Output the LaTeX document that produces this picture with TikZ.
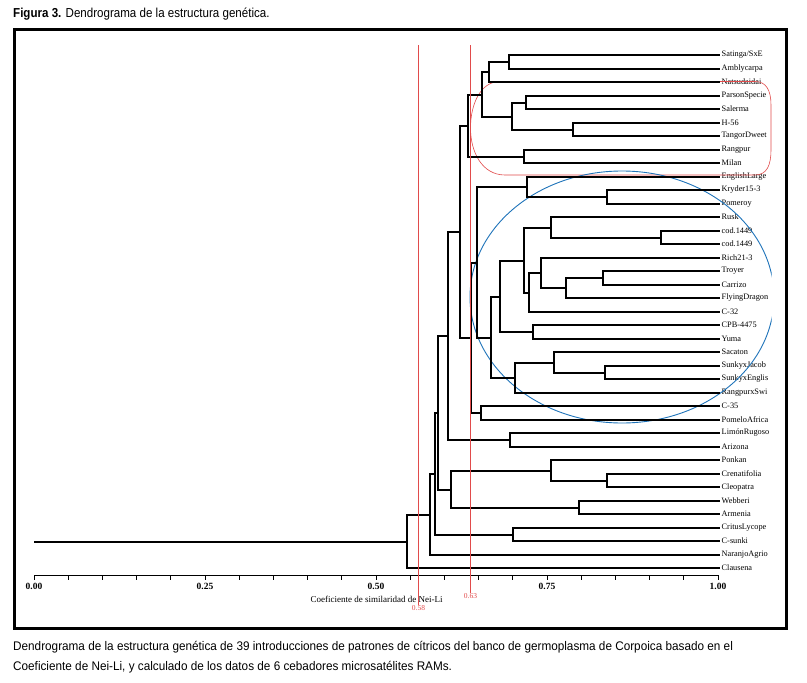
\documentclass[tikz,border=0pt]{standalone}
\usepackage{fontspec}
\setmainfont{Liberation Serif}
\newfontfamily\titlesans[FakeStretch=0.89]{Liberation Sans}
\newfontfamily\capsans[FakeStretch=0.94]{Liberation Sans}
\usetikzlibrary{calc}
\definecolor{redline}{RGB}{225,75,75}
\definecolor{bluec}{RGB}{30,115,185}
\newcommand\joinat[4]{%
  \path let \p1=(#3), \p2=(#4) in coordinate (#1) at (#2pt, {round(0.5*\y1+0.5*\y2)*1pt});
  \draw[br] (#1) |- (#3);
  \draw[br] (#1) |- (#4);}
\begin{document}
\begin{tikzpicture}[x=1pt,y=-1pt,
  br/.style={line width=2pt, line cap=rect, line join=miter},
  leaflab/.style={anchor=west, font=\fontsize{8.3}{9}\selectfont, inner sep=0pt},
  ticklab/.style={font=\fontsize{9.5}{10}\selectfont\bfseries, inner sep=0pt},
  redlab/.style={font=\fontsize{7.5}{8}\selectfont, text=redline, inner sep=0pt},
  redrule/.style={draw=redline, line width=0.6pt},
  framebox/.style={line width=3pt}]
\useasboundingbox (0,0) rectangle (807,683);

% title
\node[anchor=west, inner sep=0pt] (title) at (13,14)
  {\titlesans\fontsize{13}{15}\selectfont\bfseries Figura 3. \mdseries Dendrograma de la estructura genética.};

% frame
\coordinate (fNW) at (14.5,29);
\coordinate (fSE) at (786,628);
\draw[framebox] (fNW) rectangle (fSE);

% leaves
\begin{scope}
\clip (0,0) rectangle (771.5,683);
\foreach \name [count=\i] in {Satinga/SxE,Amblycarpa,Natsudaidai,ParsonSpecie,Salerma,H-56,TangorDweet,Rangpur,Milan,EnglishLarge,Kryder15-3,Pomeroy,Rusk,cod.1449,cod.1449,Rich21-3,Troyer,Carrizo,FlyingDragon,C-32,CPB-4475,Yuma,Sacaton,SunkyxJacob,SunkyxEnglis,RangpurxSwi,C-35,PomeloAfrica,LimónRugoso,Arizona,Ponkan,Crenatifolia,Cleopatra,Webberi,Armenia,CritusLycope,C-sunki,NaranjoAgrio,Clausena}{
  \coordinate (L\i) at (719,{round(55+13.5*(\i-1))});
  \node[leaflab] (T\i) at (721.5,{round(55+13.5*(\i-1))}) {\name};
}
% red group outline
\draw[redline, line width=0.6pt] (500,81.5) -- (755,81.5)
  .. controls (766,81.5) and (771,90) .. (771,105) -- (771,150)
  .. controls (771,165) and (767,175) .. (755,175) -- (505,175)
  .. controls (482,175) and (470.5,152) .. (470.5,128)
  .. controls (470.5,105) and (480,81.5) .. (500,81.5) -- cycle;
% blue group outline
\coordinate (bc) at (622,297);
\draw[bluec, line width=0.9pt] (bc) ellipse [x radius=152, y radius=126];
\end{scope}

% tree
\joinat{a1}{509}{L1}{L2}
\joinat{a2}{489}{a1}{L3}
\joinat{a3}{526}{L4}{L5}
\joinat{a4}{573}{L6}{L7}
\joinat{a5}{512}{a3}{a4}
\joinat{a6}{482}{a2}{a5}
\joinat{a7}{524}{L8}{L9}
\joinat{a8}{468}{a6}{a7}
\joinat{b1}{607}{L11}{L12}
\joinat{b2}{527}{L10}{b1}
\joinat{b3}{661}{L14}{L15}
\joinat{b4}{551}{L13}{b3}
\joinat{b5}{603}{L17}{L18}
\joinat{b6}{566}{b5}{L19}
\joinat{b7}{541}{L16}{b6}
\joinat{b8}{529}{b7}{L20}
\joinat{b9}{524}{b4}{b8}
\joinat{b10}{533}{L21}{L22}
\joinat{b11}{500}{b9}{b10}
\joinat{b12}{605}{L24}{L25}
\joinat{b13}{554}{L23}{b12}
\joinat{b14}{515}{b13}{L26}
\joinat{b15}{491}{b11}{b14}
\joinat{b16}{477}{b2}{b15}
\joinat{b17}{481}{L27}{L28}
\joinat{b18}{470.5}{b16}{b17}
\joinat{c1}{460}{a8}{b18}
\joinat{c2}{510}{L29}{L30}
\joinat{c3}{448}{c1}{c2}
\joinat{d1}{607}{L32}{L33}
\joinat{d2}{551}{L31}{d1}
\joinat{d3}{579}{L34}{L35}
\joinat{d4}{451}{d2}{d3}
\joinat{d5}{438}{c3}{d4}
\joinat{e1}{513}{L36}{L37}
\joinat{e2}{435}{d5}{e1}
\joinat{e3}{430}{e2}{L38}
\joinat{root}{407}{e3}{L39}

% axis
\coordinate (A0) at (34,575);
\coordinate (A1) at (718,575);
\draw[line width=1.3pt] (root) -- (root -| A0);
\draw[line width=1pt] (A0) -- (A1);
\foreach \k in {0,...,20}{
  \coordinate (tk\k) at ({34+34.2*\k},575);
  \draw[line width=1pt] (tk\k) -- ++(0,4.5);
}
\node[ticklab] (t0) at (34,586.5) {0.00};
\node[ticklab] (t25) at (205,586.5) {0.25};
\node[ticklab] (t50) at (376,586.5) {0.50};
\node[ticklab] (t75) at (547,586.5) {0.75};
\node[ticklab] (t100) at (718,586.5) {1.00};
\node[inner sep=0pt, font=\fontsize{9}{10}\selectfont] (axlab) at (376.5,599.5) {Coeficiente de similaridad de Nei-Li};

% red threshold lines
\coordinate (r1t) at (418.5,45);
\coordinate (r1b) at (418.5,605);
\coordinate (r2t) at (470.5,45);
\coordinate (r2b) at (470.5,593);
\draw[redrule] (r1t) -- (r1b);
\draw[redrule] (r2t) -- (r2b);
\node[redlab, anchor=north] (l58) at (r1b) {0.58};
\node[redlab, anchor=north] (l63) at (r2b) {0.63};

% caption
\node[anchor=west, inner sep=0pt] (cap1) at (13,647)
  {\capsans\fontsize{12.5}{14}\selectfont Dendrograma de la estructura genética de 39 introducciones de patrones de cítricos del banco de germoplasma de Corpoica basado en el};
\node[anchor=west, inner sep=0pt] (cap2) at (13,667)
  {\capsans\fontsize{12.5}{14}\selectfont Coeficiente de Nei-Li, y calculado de los datos de 6 cebadores microsatélites RAMs.};
\end{tikzpicture}
\end{document}
